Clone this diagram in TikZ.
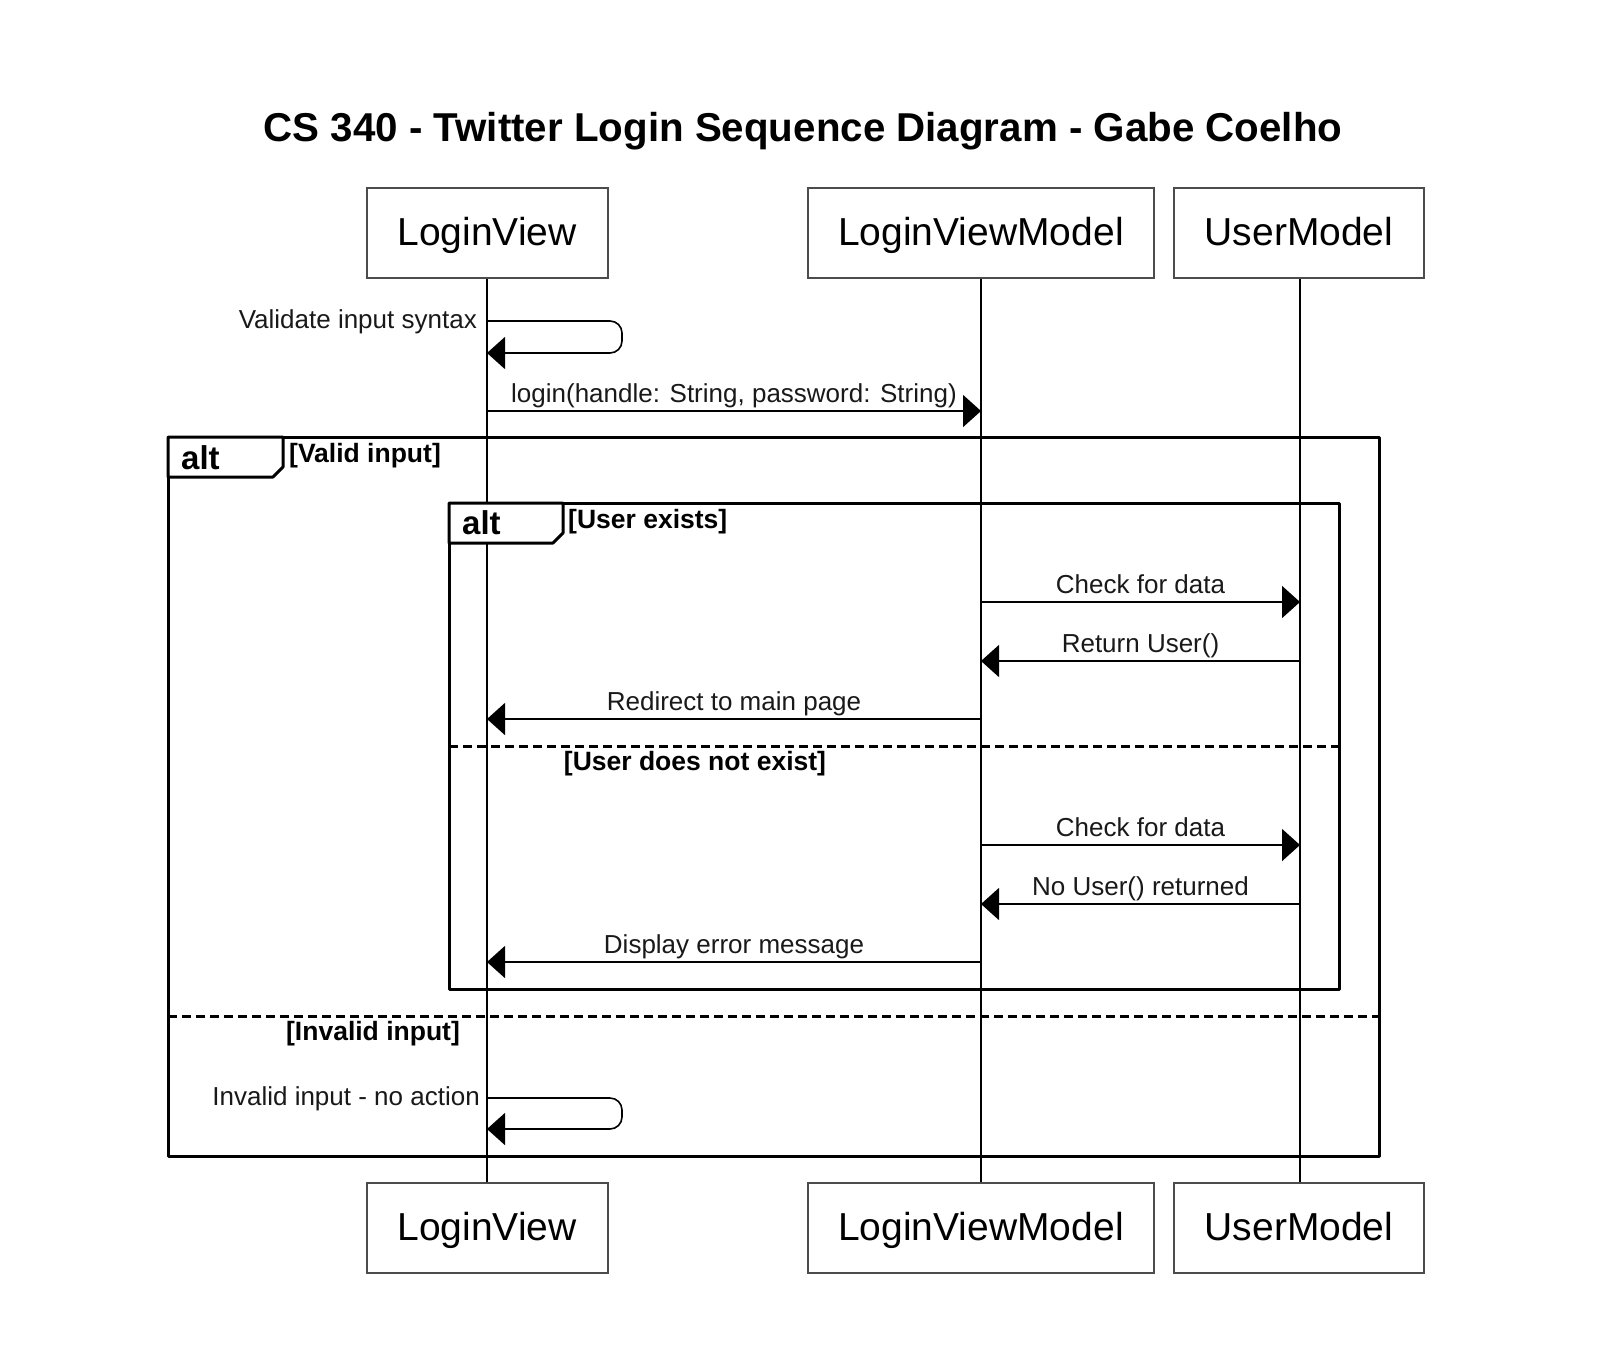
\documentclass[tikz,border=0pt]{standalone}
\usepackage{fontspec}
\setmainfont{Liberation Sans}
\usetikzlibrary{arrows.meta}

\tikzset{
  actor/.style={draw=black!70, line width=2pt, fill=white, minimum width=#1,
    minimum height=90pt, inner sep=0pt, text height=30pt, text depth=6pt,
    font=\fontsize{39}{45}\selectfont},
  msg/.style={line width=1.6pt, -{Triangle[length=18pt,width=32pt]}},
  altframe/.style={line width=3pt, line join=round},
  altsplit/.style={line width=3pt, dash pattern=on 9pt off 5pt},
  lbl/.style={font=\fontsize{26}{30}\selectfont, inner sep=0pt, text=black!90},
  guard/.style={font=\bfseries\fontsize{26.5}{30}\selectfont, inner sep=0pt},
  altname/.style={font=\bfseries\fontsize{33}{38}\selectfont, inner sep=0pt, anchor=west},
}

\begin{document}
\begin{tikzpicture}[x=1pt,y=-1pt]
  \fill[white] (0,0) rectangle (1600,1366);
  \useasboundingbox (0,0) rectangle (1600,1366);
  % Title
  \node[font=\bfseries\fontsize{40.3}{48}\selectfont] (title) at (803,131)
    {CS 340 - Twitter Login Sequence Diagram - Gabe Coelho};
  % Lifelines (behind everything)
  \foreach \name/\x in {lv/487, lvm/981, um/1300}{
    \coordinate (\name-top) at (\x,278);
    \coordinate (\name-bot) at (\x,1183);
    \draw[line width=1.6pt] (\name-top) -- (\name-bot);
  }
  % Actors, top and bottom
  \foreach \name/\x/\w/\txt in {lv/487/241/LoginView, lvm/981/346/LoginViewModel, um/1299/250/UserModel}{
    \node[actor=\w] (\name) at (\x,233) {\txt};
    \node[actor=\w] (\name-b) at (\x,1228) {\txt};
  }
  % Outer alt
  \draw[altframe] (168,437) rectangle (1379,1156);
  \draw[altframe, fill=white] (168,437) -- (168,477) -- (273,477) -- (283,467) -- (283,437) -- cycle;
  \node[altname] (alt1) at (181,458) {alt};
  \node[guard, anchor=west] (valid) at (289,456) {[Valid input]};
  \draw[altsplit] (168,1016) -- (1379,1016);
  \node[guard] (invalid) at (373,1034) {[Invalid input]};
  % Inner alt
  \draw[altframe] (449,503) rectangle (1339,989);
  \draw[altframe, fill=white] (449,503) -- (449,543) -- (553,543) -- (563,533) -- (563,503) -- cycle;
  \node[altname] (alt2) at (462,523) {alt};
  \node[guard, anchor=west] (exists) at (568,522) {[User exists]};
  \draw[altsplit] (449,746) -- (1339,746);
  \node[guard] (noexist) at (695,764) {[User does not exist]};
  % Self messages
  \draw[msg, rounded corners=12pt] (lv |- 0,321) -- (622,321) -- (622,353) -- (lv |- 0,353);
  \node[lbl, anchor=east] (selfmsg1) at (477,322) {Validate input syntax};
  \draw[msg, rounded corners=12pt] (lv |- 0,1098) -- (622,1098) -- (622,1129) -- (lv |- 0,1129);
  \node[lbl, anchor=east] (selfmsg2) at (480,1099) {Invalid input - no action};
  % Messages between lifelines
  \foreach \y/\a/\b/\txt in {
      411/lv/lvm/{login(handle: String, password: String)},
      602/lvm/um/{Check for data},
      661/um/lvm/{Return User()},
      719/lvm/lv/{Redirect to main page},
      845/lvm/um/{Check for data},
      904/um/lvm/{No User() returned},
      962/lvm/lv/{Display error message}}{
    \draw[msg] (\a-top |- 0,\y) -- (\b-top |- 0,\y)
      node[lbl, midway, anchor=base, yshift=9pt] {\txt};
  }
\end{tikzpicture}
\end{document}
